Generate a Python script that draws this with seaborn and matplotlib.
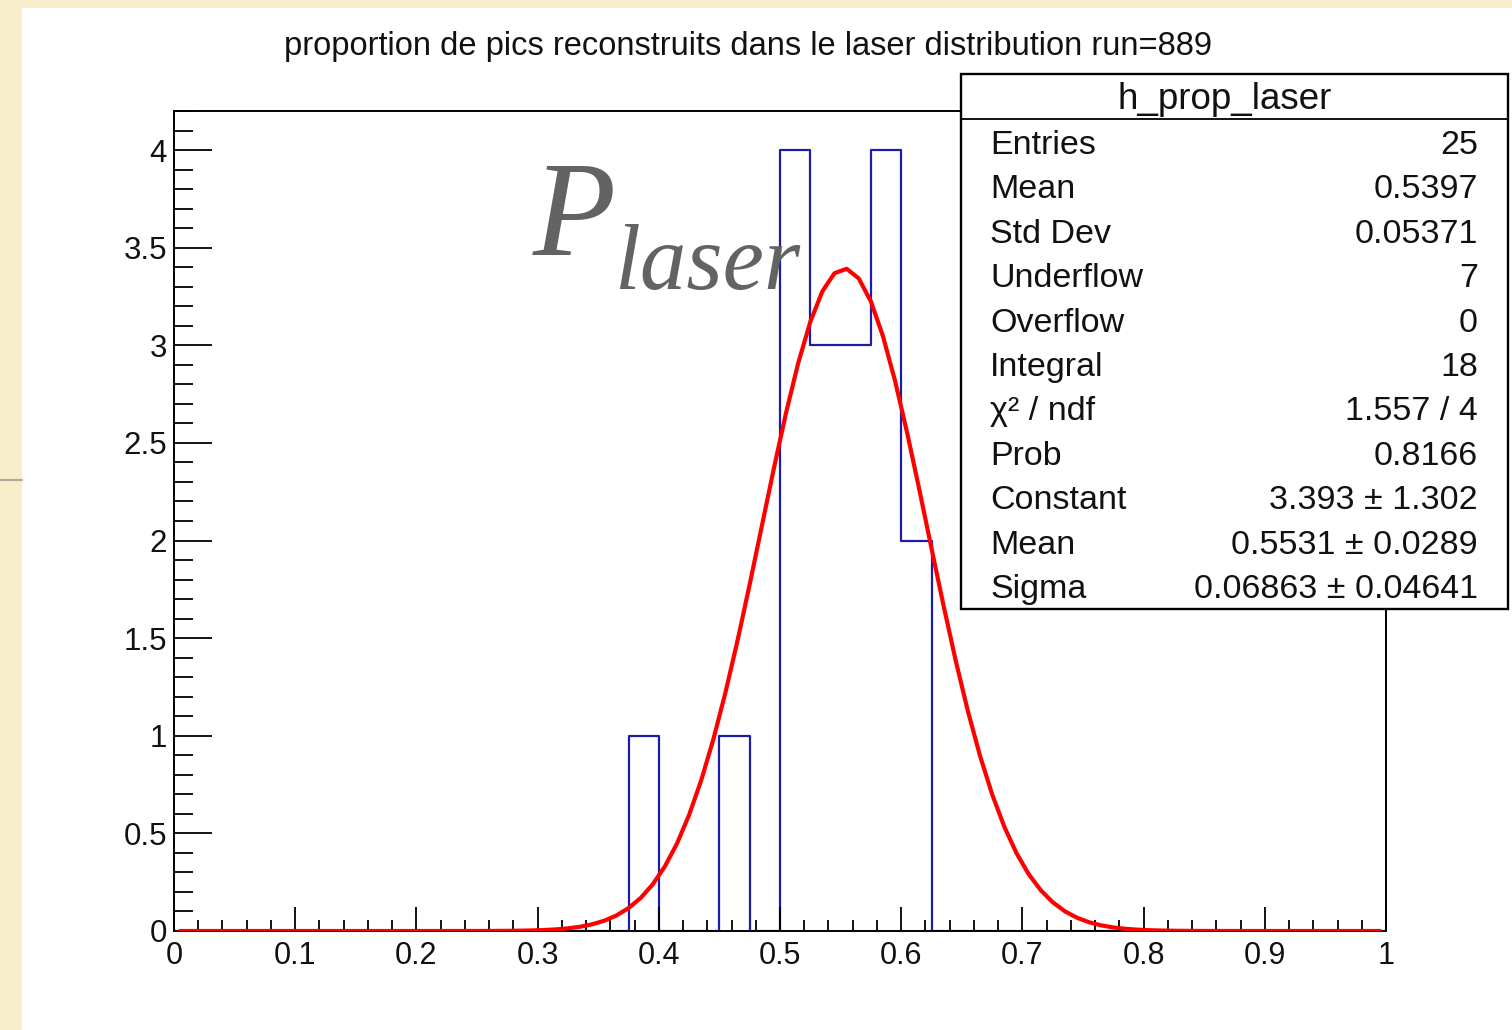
import numpy as np
import pandas as pd
import matplotlib
matplotlib.use("Agg")
import matplotlib.pyplot as plt
from matplotlib.patches import Rectangle
from matplotlib.lines import Line2D
from matplotlib.ticker import MultipleLocator, FixedLocator, FixedFormatter
import seaborn as sns

# ---- histogram h_prop_laser: 40 bins on [0, 1], only non-empty bins listed
n_bins = 40
x_min, x_max = 0.0, 1.0
bin_centres = [0.3875, 0.4625, 0.5125, 0.5375, 0.5625, 0.5875, 0.6125]
bin_counts = [1, 1, 4, 3, 3, 4, 2]

# ---- gaussian fit parameters
fit_constant = 3.393
fit_mean = 0.5531
fit_sigma = 0.06863
fit_range = (0.005, 0.995)

# ---- statistics box
stats_title = "h_prop_laser"
stats_names = ["Entries", "Mean", "Std Dev", "Underflow", "Overflow", "Integral",
               "\u03c7\u00b2 / ndf", "Prob", "Constant", "Mean", "Sigma"]
stats_values = ["25", "0.5397", "0.05371", "7", "0", "18",
                "1.557 / 4", "0.8166", "3.393 \u00b1 1.302", "0.5531 \u00b1 0.0289",
                "0.06863 \u00b1 0.04641"]

# ---- axis labels
x_ticks = [0.0, 0.1, 0.2, 0.3, 0.4, 0.5, 0.6, 0.7, 0.8, 0.9, 1.0]
x_tick_labels = ["0", "0.1", "0.2", "0.3", "0.4", "0.5", "0.6", "0.7", "0.8", "0.9", "1"]
y_ticks = [0.0, 0.5, 1.0, 1.5, 2.0, 2.5, 3.0, 3.5, 4.0]
y_tick_labels = ["0", "0.5", "1", "1.5", "2", "2.5", "3", "3.5", "4"]
y_top = 4.2

title = "proportion de pics reconstruits dans le laser distribution run=889"

# ---------------------------------------------------------------------------
sns.set_theme(style="white")
plt.rcParams["font.family"] = ["Liberation Sans", "DejaVu Sans"]

W, H = 1512, 1030
fig = plt.figure(figsize=(W / 100, H / 100), dpi=100, facecolor="#f7edca")


def fx(px):
    return px / W


def fy(py):
    return 1 - py / H


# white canvas on the parchment page
fig.add_artist(Rectangle((fx(22), 0), 1 - fx(22), fy(8), transform=fig.transFigure,
                         facecolor="white", edgecolor="none", zorder=0))
fig.add_artist(Line2D([0, fx(22)], [fy(480), fy(480)], transform=fig.transFigure,
                      color="#b2aa98", lw=1.5, zorder=0))

ax = fig.add_axes([fx(174), fy(931), fx(1386) - fx(174), fy(111) - fy(931)])
ax.set_facecolor("white")

hist_df = pd.DataFrame({"value": bin_centres, "count": bin_counts})
sns.histplot(data=hist_df, x="value", weights="count",
             bins=n_bins, binrange=(x_min, x_max),
             element="step", fill=False, color="#1c1ca8", linewidth=1.6,
             ax=ax, zorder=1)

xs = np.linspace(fit_range[0], fit_range[1], 100)
ys = fit_constant * np.exp(-0.5 * ((xs - fit_mean) / fit_sigma) ** 2)
sns.lineplot(x=xs, y=ys, color="#ff0000", linewidth=3.0, ax=ax, zorder=3)

ax.set_xlim(x_min, x_max)
ax.set_ylim(0, y_top)
ax.set_xlabel("")
ax.set_ylabel("")
ax.set_axisbelow(False)

ax.xaxis.set_major_locator(FixedLocator(x_ticks))
ax.xaxis.set_major_formatter(FixedFormatter(x_tick_labels))
ax.xaxis.set_minor_locator(MultipleLocator(0.02))
ax.yaxis.set_major_locator(FixedLocator(y_ticks))
ax.yaxis.set_major_formatter(FixedFormatter(y_tick_labels))
ax.yaxis.set_minor_locator(MultipleLocator(0.1))

for s in ax.spines.values():
    s.set_color("black")
    s.set_linewidth(1.4)
    s.set_zorder(2.5)

ax.tick_params(axis="x", which="major", direction="in", length=17, width=1.3,
               colors="black", labelsize=22, pad=7, bottom=True, top=False)
ax.tick_params(axis="x", which="minor", direction="in", length=8, width=1.3,
               colors="black", bottom=True, top=False)
ax.tick_params(axis="y", which="major", direction="in", length=27, width=1.3,
               colors="black", labelsize=22.5, pad=5, left=True, right=False)
ax.tick_params(axis="y", which="minor", direction="in", length=13.5, width=1.3,
               colors="black", left=True, right=False)
for lab in ax.get_xticklabels() + ax.get_yticklabels():
    lab.set_color("#111111")

# title
fig.text(fx(748), fy(55), title, ha="center", va="baseline", fontsize=23.5,
         color="#111111")

# P_laser annotation
fig.text(fx(533), fy(255), "P", ha="left", va="baseline", fontsize=98,
         family="Liberation Serif", style="italic", color="#636363")
fig.text(fx(614), fy(289), "laser", ha="left", va="baseline", fontsize=67,
         family="Liberation Serif", style="italic", color="#636363")

# statistics box
bx0, by0, bx1, by1 = 961, 74, 1508, 609
fig.add_artist(Rectangle((fx(bx0), fy(by1)), fx(bx1) - fx(bx0), fy(by0) - fy(by1),
                         transform=fig.transFigure, facecolor="white",
                         edgecolor="black", lw=1.7, zorder=5))
fig.add_artist(Line2D([fx(bx0), fx(bx1)], [fy(119), fy(119)], transform=fig.transFigure,
                      color="black", lw=1.3, zorder=6))
fig.text(fx(1225), fy(109), stats_title, ha="center", va="baseline",
         fontsize=26.5, color="#111111", zorder=7)
row_baselines = 154 + 44.4 * np.arange(len(stats_names))
for name, val, yb in zip(stats_names, stats_values, row_baselines):
    fig.text(fx(990), fy(yb), name, ha="left", va="baseline", fontsize=24.5,
             color="#111111", zorder=7)
    fig.text(fx(1478), fy(yb), val, ha="right", va="baseline", fontsize=24.5,
             color="#111111", zorder=7)

fig.savefig("out.png", dpi=100, facecolor=fig.get_facecolor())
